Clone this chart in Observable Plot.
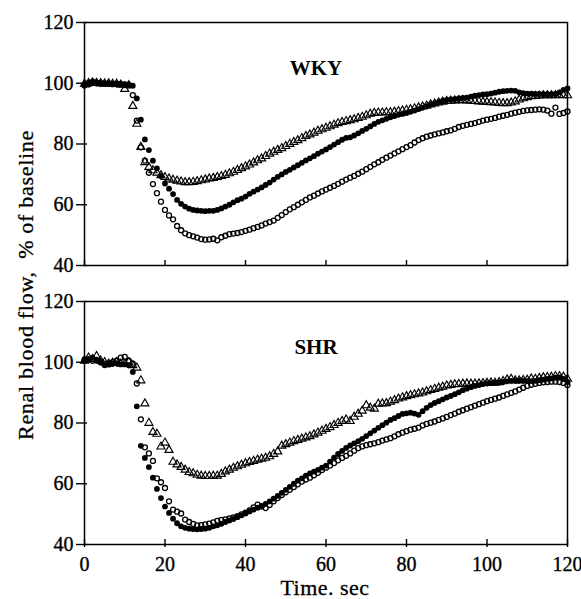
<!DOCTYPE html>
<html>
<head>
<meta charset="utf-8">
<script src="https://cdn.jsdelivr.net/npm/d3@7"></script>
<script src="https://cdn.jsdelivr.net/npm/@observablehq/plot@0.6"></script>
<style>
  html, body { margin: 0; padding: 0; background: #fff; }
  #chart { width: 581px; height: 599px; }
  #chart svg, #chart svg text { font-family: "Liberation Serif", "DejaVu Serif", serif !important; }
</style>
</head>
<body>
<div id="chart"></div>
<script>
// ---- Data ----
const panels = ["WKY", "SHR"];
const xTicks = [0, 20, 40, 60, 80, 100, 120];
const yTicks = [40, 60, 80, 100, 120];
const xLabel = "Time. sec";
const yLabel = "Renal blood flow,  % of baseline";

// sampling times, seconds (one sample per second, 0..120)
const time = d3.range(0, 121);

const wkyFilled = [
  99.5,100.2,100.6,100.3,100.1,100.0,100.0,99.9,99.9,99.8,
  99.7,99.6,99.2,95.0,88.0,81.5,78.0,74.5,72.0,69.5,
  67.0,65.3,63.5,61.6,60.3,59.4,58.7,58.3,58.1,58.0,
  57.9,58.0,58.0,58.3,58.8,59.4,60.0,60.8,61.5,62.0,
  62.7,63.6,64.3,65.0,65.7,66.5,67.3,68.3,69.2,70.0,
  70.8,71.5,72.3,73.0,73.8,74.6,75.3,76.0,76.8,77.5,
  78.2,79.0,79.8,80.6,81.4,82.0,82.2,82.8,83.5,84.3,
  85.0,85.8,86.6,87.3,87.8,88.3,88.8,89.2,89.6,89.9,
  90.2,90.6,91.0,91.5,92.0,92.5,93.0,93.4,93.8,94.2,
  94.5,94.7,94.8,95.0,95.2,95.3,95.6,95.9,96.1,96.3,
  96.4,96.6,96.9,97.2,97.4,97.5,97.6,97.5,97.0,96.7,
  96.6,96.6,96.5,96.5,96.4,96.4,96.4,96.5,97.0,97.8,
  98.3
];
const wkyOpen = [
  99.3,99.6,100.2,100.0,99.8,99.8,99.9,99.7,99.8,99.6,
  99.5,99.3,96.1,87.7,78.9,74.5,70.5,66.8,63.8,61.0,
  58.3,56.5,55.2,53.0,51.6,50.6,50.0,49.6,49.2,48.7,
  48.5,48.6,48.8,48.3,49.3,49.8,50.3,50.5,50.7,51.0,
  51.4,51.8,52.3,52.7,53.2,53.8,54.3,54.8,55.7,56.6,
  57.6,58.5,59.2,60.0,60.8,61.6,62.4,63.0,63.7,64.4,
  65.0,65.6,66.2,66.9,67.6,68.3,68.9,69.5,70.2,70.9,
  71.7,72.5,73.3,74.0,74.8,75.5,76.2,76.9,77.6,78.3,
  79.0,79.6,80.5,81.3,81.9,82.4,82.8,83.2,83.5,83.8,
  84.2,84.5,85.0,85.6,86.0,86.3,86.6,86.9,87.3,87.7,
  88.0,88.3,88.6,89.0,89.3,89.6,90.0,90.3,90.6,90.9,
  91.1,91.2,91.3,91.4,91.3,91.0,90.0,92.0,89.9,90.2,
  90.7
];
const wkyTri = [
  99.8,100.0,100.2,100.1,100.0,99.9,99.9,99.8,99.8,99.5,
  98.1,99.3,92.5,86.6,79.0,74.0,72.4,71.3,70.5,69.7,
  69.1,68.6,68.2,67.9,67.6,67.4,67.4,67.5,67.7,68.0,
  68.3,68.6,68.8,69.1,69.4,69.8,70.3,70.8,71.4,72.0,
  72.6,73.2,73.9,74.6,75.2,76.0,76.8,77.4,78.0,78.6,
  79.3,80.0,80.6,81.2,81.9,82.6,83.1,83.7,84.3,84.8,
  85.3,85.8,86.3,86.8,87.2,87.5,87.8,88.1,88.5,88.9,
  89.4,89.9,90.2,90.3,90.3,90.4,90.4,90.6,90.8,91.0,
  91.2,91.4,91.7,92.0,92.3,92.6,93.0,93.3,93.6,93.9,
  94.1,94.2,94.3,94.4,94.4,94.3,94.2,94.1,94.0,93.9,
  93.8,93.7,93.6,93.5,93.4,93.4,93.6,94.0,94.6,95.0,
  95.4,95.7,95.8,95.9,96.0,96.0,96.0,96.0,96.1,96.0,
  96.0
];
const shrFilled = [
  101.0,100.8,101.5,100.5,100.0,99.0,99.2,99.5,99.7,99.3,
  99.3,99.0,96.8,85.5,72.5,68.5,65.5,62.0,58.3,55.3,
  52.5,50.4,48.5,47.0,46.0,45.5,45.2,45.1,45.0,45.1,
  45.2,45.5,46.0,46.3,46.8,47.4,47.9,48.4,49.0,49.6,
  50.2,50.9,51.5,52.1,52.7,53.4,54.2,55.1,56.0,57.0,
  58.0,59.0,60.0,61.0,61.8,62.7,63.4,64.0,64.6,65.3,
  66.0,67.3,68.6,69.8,70.8,71.8,72.6,73.3,74.0,74.8,
  75.7,76.6,77.5,78.4,79.3,80.1,81.0,81.6,82.3,83.0,
  83.2,83.4,83.1,82.7,83.9,85.0,85.9,86.6,87.2,87.8,
  88.4,88.9,89.5,90.1,90.8,91.3,91.8,92.2,92.5,92.8,
  93.0,93.1,93.2,93.4,93.5,93.7,93.9,94.0,94.0,93.9,
  93.8,93.8,93.9,94.1,94.3,94.5,94.7,94.9,95.0,94.5,
  93.5
];
const shrOpen = [
  100.5,101.0,100.5,100.8,100.0,99.5,99.5,100.0,100.5,101.5,
  101.8,100.5,99.5,93.0,81.2,72.0,70.0,67.5,61.8,60.5,
  58.6,54.2,51.5,50.8,50.2,48.2,47.4,46.8,46.3,46.4,
  46.6,46.9,47.3,47.8,48.1,48.3,48.6,48.9,49.3,49.9,
  50.5,51.2,52.2,53.1,52.5,52.0,53.0,54.2,55.3,56.3,
  57.2,58.0,58.9,59.8,60.7,61.4,62.0,62.8,63.6,64.5,
  65.3,66.0,66.8,67.7,68.5,69.2,70.0,70.9,71.7,72.3,
  72.7,73.0,73.3,73.7,74.2,74.6,75.0,75.6,76.3,76.8,
  77.3,77.8,78.1,78.5,79.2,79.7,80.1,80.5,81.0,81.5,
  82.0,82.6,83.1,83.7,84.2,84.7,85.2,85.7,86.2,86.7,
  87.2,87.6,88.0,88.4,88.9,89.4,89.9,90.4,91.0,91.6,
  92.2,92.6,92.9,93.2,93.4,93.5,93.6,93.6,93.5,93.2,
  92.5
];
const shrTri = [
  100.5,101.5,101.0,102.0,100.5,100.0,99.5,99.8,100.0,99.5,
  99.5,100.0,99.0,98.2,94.0,86.4,80.0,77.0,76.4,72.2,
  73.5,71.1,67.2,66.3,65.5,64.6,63.8,63.4,62.9,62.6,
  62.5,62.5,62.6,62.6,63.2,64.0,64.6,65.2,65.7,66.2,
  66.7,67.1,67.5,67.9,68.2,68.5,69.0,69.8,70.6,72.5,
  73.0,73.5,74.0,74.4,74.8,75.2,75.6,76.2,76.8,77.4,
  78.0,78.6,79.3,80.0,80.6,81.1,80.6,82.0,83.0,84.0,
  85.8,85.0,84.7,86.3,86.4,86.5,87.0,87.5,88.0,88.4,
  88.8,89.1,89.4,89.7,90.0,90.4,90.8,91.2,91.6,91.9,
  92.3,92.5,92.7,92.8,92.9,93.0,92.9,92.9,93.0,93.1,
  93.2,93.3,93.2,93.4,93.8,94.3,94.5,94.0,94.0,94.1,
  94.2,94.6,94.5,94.8,95.0,95.1,95.2,95.4,95.4,95.2,
  94.5
];

// ---- Build a tidy table from the arrays ----
const rows = [];
for (const [panel, filled, open, tri] of [
  [panels[0], wkyFilled, wkyOpen, wkyTri],
  [panels[1], shrFilled, shrOpen, shrTri]
]) {
  time.forEach((t, i) => {
    rows.push({panel, series: "filled", t, v: filled[i]});
    rows.push({panel, series: "open", t, v: open[i]});
    rows.push({panel, series: "triangle", t, v: tri[i]});
  });
}
const bySeries = (s) => rows.filter(d => d.series === s);

const FONT = "Liberation Serif, DejaVu Serif, serif";
const W = 581, H = 599;
const chart = Plot.plot({
  width: W,
  height: H,
  marginLeft: 84,
  marginRight: 14,
  marginTop: 22,
  marginBottom: 54,
  style: {fontFamily: FONT, fontSize: "20px", color: "black", background: "white", overflow: "visible"},
  x: {domain: [0, 120]},
  y: {domain: [40, 120]},
  fy: {domain: panels, paddingInner: 0.1288, paddingOuter: 0, axis: null, label: null},
  marks: [
    Plot.axisY({ticks: yTicks, tickSize: 8, tickPadding: 3, label: null, strokeWidth: 1.4, fontSize: 20, fontFamily: FONT, textStroke: "black", textStrokeWidth: 0.35}),
    Plot.axisY({ticks: yTicks, tickSize: -3, fill: "none", label: null, strokeWidth: 1.4}),
    Plot.axisX({ticks: xTicks, tickSize: 3, tickPadding: 9, label: null, strokeWidth: 1.4, fontSize: 20, fontFamily: FONT, textStroke: "black", textStrokeWidth: 0.35}),
    Plot.axisX({ticks: xTicks, tickSize: -5, fill: "none", label: null, strokeWidth: 1.4, facetAnchor: null}),
    Plot.dot(bySeries("filled"), {x: "t", y: "v", fy: "panel", r: 2.9, fill: "black", stroke: "none"}),
    Plot.dot(bySeries("open"), {x: "t", y: "v", fy: "panel", r: 2.5, fill: "none", stroke: "black", strokeWidth: 1.3}),
    Plot.dot(bySeries("triangle"), {x: "t", y: "v", fy: "panel", symbol: "triangle", r: 3.0, fill: "none", stroke: "black", strokeWidth: 1.15}),
    Plot.frame({stroke: "black", strokeWidth: 1.5}),
    Plot.text(panels, {fy: d => d, text: d => d, frameAnchor: "top", dx: -10, dy: 38, fontWeight: "bold", fontSize: 21, fontFamily: FONT})
  ]
});

const svg = d3.select(chart.tagName.toLowerCase() === "svg" ? chart : chart.querySelector("svg"));
svg.append("text")
  .attr("transform", "translate(33,285) rotate(-90)")
  .attr("text-anchor", "middle")
  .attr("font-family", FONT)
  .attr("font-size", 22)
  .attr("letter-spacing", 0.7)
  .attr("fill", "black")
  .attr("stroke", "black")
  .attr("stroke-width", 0.3)
  .style("white-space", "pre")
  .text(yLabel);
svg.append("text")
  .attr("x", 325)
  .attr("y", 595)
  .attr("text-anchor", "middle")
  .attr("font-family", FONT)
  .attr("font-size", 22)
  .attr("letter-spacing", 0.5)
  .attr("fill", "black")
  .attr("stroke", "black")
  .attr("stroke-width", 0.3)
  .style("white-space", "pre")
  .text(xLabel);

document.getElementById("chart").appendChild(chart);
</script>
</body>
</html>
